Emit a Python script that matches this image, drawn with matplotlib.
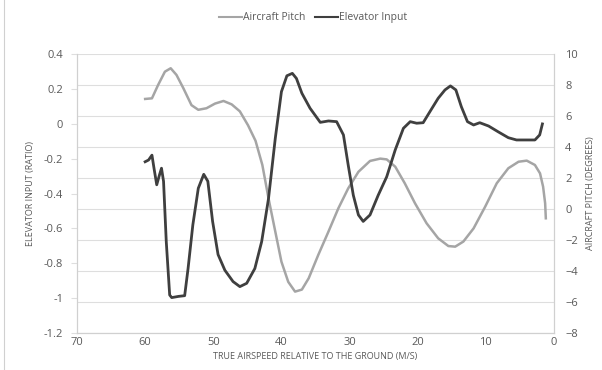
import matplotlib
matplotlib.use("Agg")
import matplotlib.pyplot as plt
from matplotlib.lines import Line2D

# airspeed (m/s) vs aircraft pitch (degrees)
pitch_speed = [60.0, 59.0, 58.1, 57.1, 56.25, 55.4, 54.4, 53.2, 52.2, 51.0, 49.75,
               48.5, 47.3, 46.1, 44.9, 43.8, 42.8, 41.9, 40.9, 40.0, 39.0, 38.0,
               37.0, 36.0, 34.6, 33.1, 31.65, 30.2, 28.7, 27.0, 25.5, 24.55, 23.3,
               21.9, 20.4, 18.7, 17.0, 15.5, 14.5, 13.3, 11.8, 10.1, 8.4, 6.7,
               5.2, 4.0, 2.8, 2.05, 1.6, 1.3, 1.2]
pitch_deg = [7.1, 7.14, 8.0, 8.86, 9.08, 8.65, 7.8, 6.7, 6.4, 6.5, 6.8,
             6.97, 6.75, 6.3, 5.4, 4.4, 2.84, 0.7, -1.46, -3.4, -4.7, -5.33,
             -5.2, -4.47, -2.97, -1.46, 0.04, 1.33, 2.4, 3.1, 3.25, 3.2, 2.73,
             1.66, 0.37, -0.92, -1.89, -2.39, -2.43, -2.1, -1.25, 0.15, 1.66, 2.63,
             3.05, 3.12, 2.84, 2.3, 1.44, 0.37, -0.6]

# airspeed (m/s) vs elevator input (ratio)
elev_speed = [60.0, 59.5, 59.0, 58.7, 58.3, 57.9, 57.6, 57.3, 56.9, 56.4, 56.1,
              55.1, 54.2, 53.7, 53.0, 52.2, 51.4, 50.8, 50.1, 49.3, 48.3, 47.1,
              46.1, 45.1, 43.9, 42.9, 41.9, 40.9, 40.0, 39.2, 38.4, 37.8, 37.0,
              35.8, 34.3, 33.1, 31.9, 30.9, 30.2, 29.45, 28.7, 28.0, 27.0, 25.8,
              24.55, 23.3, 22.1, 21.1, 20.15, 19.2, 18.2, 17.0, 16.0, 15.2, 14.4,
              13.6, 12.7, 11.8, 10.9, 9.6, 8.2, 6.7, 5.5, 4.0, 2.8, 2.1, 1.7]
elev_ratio = [-0.218, -0.208, -0.18, -0.255, -0.35, -0.294, -0.255, -0.33, -0.676, -0.982, -0.997,
              -0.99, -0.986, -0.83, -0.58, -0.37, -0.29, -0.33, -0.56, -0.75, -0.84, -0.905,
              -0.934, -0.915, -0.83, -0.676, -0.43, -0.083, 0.184, 0.275, 0.289, 0.26, 0.175,
              0.089, 0.008, 0.016, 0.012, -0.064, -0.237, -0.41, -0.523, -0.56, -0.523, -0.41,
              -0.304, -0.15, -0.026, 0.012, 0.003, 0.006, 0.07, 0.146, 0.194, 0.217, 0.194,
              0.098, 0.012, -0.007, 0.006, -0.013, -0.046, -0.08, -0.093, -0.093, -0.093, -0.064, -0.001]

x_ticks = [70, 60, 50, 40, 30, 20, 10, 0]
left_ticks = [0.4, 0.2, 0, -0.2, -0.4, -0.6, -0.8, -1, -1.2]
right_ticks = [10, 8, 6, 4, 2, 0, -2, -4, -6, -8]

PITCH_C = "#a5a5a5"
ELEV_C = "#3f3f3f"
GRID_C = "#dedede"
TEXT_C = "#595959"

plt.rcParams["font.family"] = ["Open Sans", "DejaVu Sans"]

fig = plt.figure(figsize=(6.02, 3.70), dpi=100)
ax = fig.add_axes([77 / 602, 1 - 333 / 370, (554 - 77) / 602, (333 - 54) / 370])
ax2 = ax.twinx()
ax.set_zorder(ax2.get_zorder() + 1)
ax.patch.set_visible(False)

ax2.plot(pitch_speed, pitch_deg, color=PITCH_C, lw=1.8, solid_joinstyle="round")
ax.plot(elev_speed, elev_ratio, color=ELEV_C, lw=2.0, solid_joinstyle="round")

ax.set_xlim(70, 0)
ax.set_xticks(x_ticks)
ax.set_ylim(-1.2, 0.4)
ax.set_yticks(left_ticks)
ax.set_yticklabels([f"{v:g}" for v in left_ticks])
ax2.set_ylim(-8, 10)
ax2.set_yticks(right_ticks)

ax2.grid(True, color=GRID_C, lw=0.8)
ax2.set_axisbelow(True)
ax.grid(False)

for a in (ax, ax2):
    for s in a.spines.values():
        s.set_color("#d0d0d0")
        s.set_linewidth(0.8)
    a.spines["top"].set_visible(False)

ax.tick_params(axis="y", colors=GRID_C, labelcolor=TEXT_C, labelsize=8, length=4, pad=6)
ax.tick_params(axis="x", colors=GRID_C, labelcolor=TEXT_C, labelsize=8, length=0, pad=3)
ax2.tick_params(axis="y", labelcolor=TEXT_C, labelsize=8, length=0, pad=8)

ax.set_ylabel("ELEVATOR INPUT (RATIO)", fontsize=6.5, color=TEXT_C, labelpad=6)
ax2.set_ylabel("AIRCRAFT PITCH (DEGREES)", fontsize=6.5, color=TEXT_C, labelpad=6)
ax.set_xlabel("TRUE AIRSPEED RELATIVE TO THE GROUND (M/S)", fontsize=6.5, color=TEXT_C, labelpad=3)

handles = [Line2D([], [], color=PITCH_C, lw=1.5), Line2D([], [], color=ELEV_C, lw=1.5)]
fig.legend(handles, ["Aircraft Pitch", "Elevator Input"], loc="center",
           bbox_to_anchor=(0.52, 0.952), ncol=2, frameon=False, fontsize=7.5,
           handlelength=2.2, handletextpad=0.1, columnspacing=1.0, labelcolor=TEXT_C)

# thin frame edge on the left of the picture
fig.add_artist(Line2D([0.006, 0.006], [0, 1], transform=fig.transFigure, color="#d0d0d0", lw=0.8))

fig.savefig("out.png", dpi=100)
